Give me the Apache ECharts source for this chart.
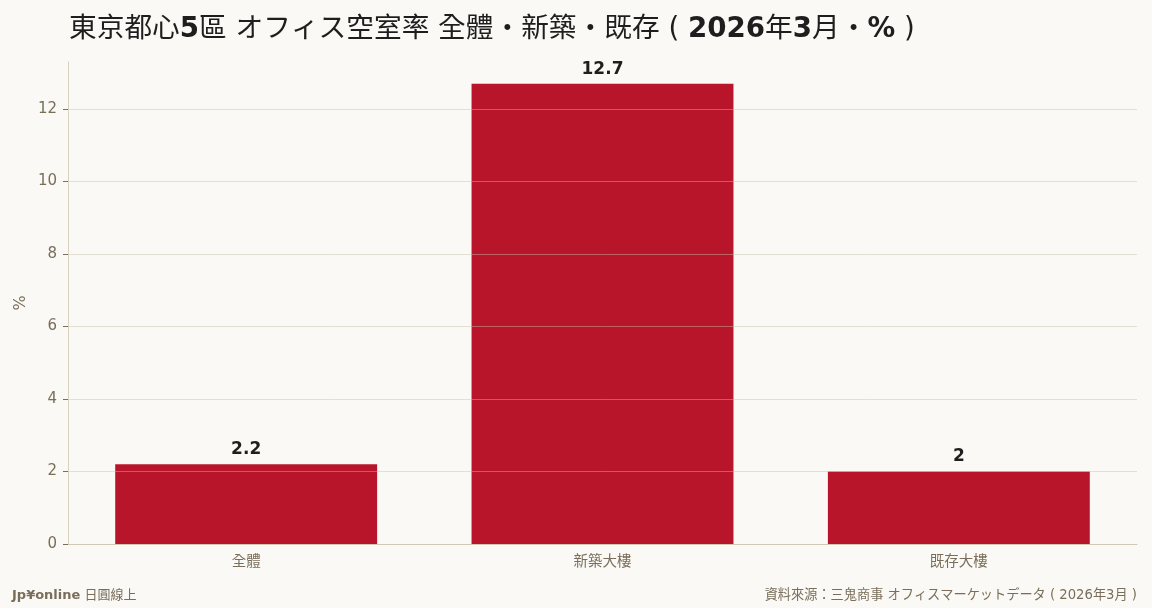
<!DOCTYPE html>
<html>
<head>
<meta charset="utf-8">
<script src="https://cdn.jsdelivr.net/npm/echarts@6/dist/echarts.min.js"></script>
<style>
html, body { margin: 0; padding: 0; background: #faf9f5; }
#chart { width: 1152px; height: 608px; }
</style>
</head>
<body>
<div id="chart"></div>
<script>
var categories = ['全體', '新築大樓', '既存大樓'];
var vacancy = [2.2, 12.7, 2];
var yTicks = [0, 2, 4, 6, 8, 10, 12];

var myChart = echarts.init(document.getElementById('chart'));
var muted = '#7a6e5a';
var font = 'DejaVu Sans, "Noto Sans CJK TC", sans-serif';

// latin bits of the title are bold, CJK stays regular
var titleParts = [
    ['n', '東京都心'], ['b', '5'], ['n', '區 オフィス空室率 全體・新築・既存 ( '],
    ['b', '2026'], ['n', '年'], ['b', '3'], ['n', '月・'], ['b', '%'], ['n', ' )']
];
var titleText = titleParts.map(function (p) {
    return '{' + p[0] + '|' + p[1] + '}';
}).join('');

myChart.setOption({
    backgroundColor: '#faf9f5',
    textStyle: { fontFamily: font },
    title: {
        text: titleText,
        left: 64,
        top: 11,
        textStyle: {
            fontSize: 27.7, color: '#1e1e1e', fontFamily: font,
            rich: {
                n: { fontSize: 27.7, fontWeight: 'normal', color: '#1e1e1e', fontFamily: font },
                b: { fontSize: 27.7, fontWeight: 'bold', color: '#1e1e1e', fontFamily: font }
            }
        }
    },
    graphic: [
        {
            type: 'text', left: 12, bottom: 6,
            style: {
                text: '{b|Jp¥online} 日圓線上',
                fill: muted, fontSize: 13, fontFamily: font,
                rich: { b: { fontWeight: 'bold', fontSize: 13, fill: muted, fontFamily: font } }
            }
        },
        {
            type: 'text', right: 15, bottom: 6,
            style: { text: '資料來源：三鬼商事 オフィスマーケットデータ ( 2026年3月 )', fill: muted, fontSize: 13.2, fontFamily: font }
        }
    ],
    grid: { left: 68, right: 15, top: 62, bottom: 64 },
    xAxis: {
        type: 'category',
        data: categories,
        axisLine: { lineStyle: { color: '#d8d0c0' } },
        axisTick: { alignWithLabel: true, lineStyle: { color: muted } },
        axisLabel: { color: muted, fontSize: 14.5, margin: 11 }
    },
    yAxis: {
        type: 'value',
        name: '%',
        nameLocation: 'middle',
        nameGap: 39,
        nameMoveOverlap: false,
        nameTextStyle: { color: muted, fontSize: 16 },
        min: 0,
        max: 13.3,
        interval: 2,
        z: 3,
        axisLine: { show: true, lineStyle: { color: '#d8d0c0' } },
        axisTick: { show: true, length: 5, lineStyle: { color: muted } },
        axisLabel: {
            color: muted, fontSize: 15, margin: 11, showMaxLabel: false,
            formatter: function (v) { return yTicks.indexOf(v) >= 0 ? v : ''; }
        },
        splitLine: { showMaxLine: false, lineStyle: { color: 'rgba(200,190,170,0.45)' } }
    },
    series: [{
        type: 'bar',
        data: vacancy,
        barCategoryGap: '26.5%',
        itemStyle: { color: '#b8152b' },
        label: {
            show: true, position: 'top', distance: 6,
            color: '#1e1e1e', fontSize: 17, fontWeight: 'bold'
        }
    }]
});
</script>
</body>
</html>
